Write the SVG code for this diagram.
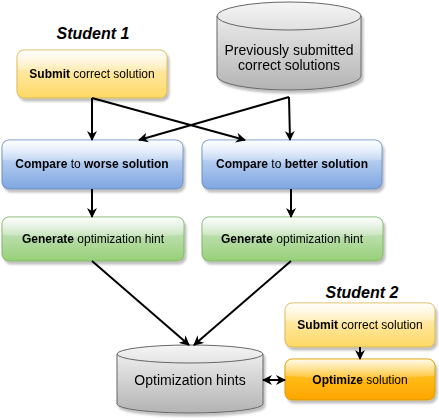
<svg xmlns="http://www.w3.org/2000/svg" width="439" height="420" viewBox="0 0 439 420">
<defs>
<linearGradient id="gY" x1="0" y1="0" x2="0" y2="1"><stop offset="0" stop-color="#fff2cc"/><stop offset="1" stop-color="#ffd966"/></linearGradient>
<linearGradient id="gB" x1="0" y1="0" x2="0" y2="1"><stop offset="0" stop-color="#dae8fc"/><stop offset="1" stop-color="#7ea6e0"/></linearGradient>
<linearGradient id="gG" x1="0" y1="0" x2="0" y2="1"><stop offset="0" stop-color="#d5e8d4"/><stop offset="1" stop-color="#97d077"/></linearGradient>
<linearGradient id="gO" x1="0" y1="0" x2="0" y2="1"><stop offset="0" stop-color="#ffcd28"/><stop offset="1" stop-color="#ffa500"/></linearGradient>
<linearGradient id="gC" x1="0" y1="0" x2="0" y2="1"><stop offset="0" stop-color="#f5f5f5"/><stop offset="1" stop-color="#b3b3b3"/></linearGradient>
<linearGradient id="glass" x1="0" y1="0" x2="0" y2="1"><stop offset="0" stop-color="#fff" stop-opacity="0.9"/><stop offset="1" stop-color="#fff" stop-opacity="0.1"/></linearGradient>
<filter id="sh" x="-10%" y="-10%" width="130%" height="140%"><feDropShadow dx="2" dy="3" stdDeviation="1.2" flood-color="#000" flood-opacity="0.25"/></filter>
<marker id="ah" viewBox="0 0 10 10" refX="9" refY="5" markerWidth="10" markerHeight="10" orient="auto-start-reverse" markerUnits="userSpaceOnUse"><path d="M0,0 L10,5 L0,10 L3,5 z" fill="#000"/></marker>
<style>
text{font-family:"Liberation Sans",Arial,sans-serif;font-size:12px;fill:#000;text-anchor:middle}
.b{font-weight:bold}
.title{font-size:16px;font-weight:bold;font-style:italic}
.big{font-size:14px}
.box{stroke-width:1}
.y{fill:url(#gY);stroke:#d6b656}
.bl{fill:url(#gB);stroke:#6c8ebf}
.g{fill:url(#gG);stroke:#82b366}
.o{fill:url(#gO);stroke:#d79b00}
.c{fill:url(#gC);stroke:#666666}
.gl{fill:url(#glass);stroke:none}
.e{fill:none;stroke:#000;stroke-width:2;marker-end:url(#ah)}
</style>
</defs>
<rect width="439" height="420" fill="#fff"/>
<text class="title" x="93" y="39">Student 1</text>
<text class="title" x="362" y="298">Student 2</text>

<g id="submit1" filter="url(#sh)">
<rect class="box y" x="17" y="50" width="150" height="48" rx="7"/>
<path class="gl" d="M24,50.5 H160 A6.5,6.5 0 0 1 166.5,57 V70 Q92,76 17.5,70 V57 A6.5,6.5 0 0 1 24,50.5 z"/>
<text x="92" y="78"><tspan class="b">Submit</tspan> correct solution</text>
</g>

<g id="previous" filter="url(#sh)">
<path class="c" d="M217,16 A72,14 0 0 1 361,16 V76 A72,14 0 0 1 217,76 z"/>
<path d="M217,16 A72,14 0 0 0 361,16" fill="none" stroke="#666666"/>
<text class="big" x="289" y="55">Previously submitted</text>
<text class="big" x="289" y="70">correct solutions</text>
</g>

<g id="compare1" filter="url(#sh)">
<rect class="box bl" x="2" y="140" width="181" height="49" rx="7"/>
<path class="gl" d="M9,140.5 H176 A6.5,6.5 0 0 1 182.5,147 V160 Q92,166 2.5,160 V147 A6.5,6.5 0 0 1 9,140.5 z"/>
<text x="92" y="168"><tspan class="b">Compare</tspan> to <tspan class="b">worse solution</tspan></text>
</g>

<g id="compare2" filter="url(#sh)">
<rect class="box bl" x="202" y="140" width="180" height="49" rx="7"/>
<path class="gl" d="M209,140.5 H375 A6.5,6.5 0 0 1 381.5,147 V160 Q292,166 202.5,160 V147 A6.5,6.5 0 0 1 209,140.5 z"/>
<text x="292" y="168"><tspan class="b">Compare</tspan> to <tspan class="b">better solution</tspan></text>
</g>

<g id="generate1" filter="url(#sh)">
<rect class="box g" x="2" y="217" width="182" height="44" rx="7"/>
<path class="gl" d="M9,217.5 H177 A6.5,6.5 0 0 1 183.5,224 V235 Q92,241 2.5,235 V224 A6.5,6.5 0 0 1 9,217.5 z"/>
<text x="93" y="243"><tspan class="b">Generate</tspan> optimization hint</text>
</g>

<g id="generate2" filter="url(#sh)">
<rect class="box g" x="202" y="217" width="181" height="44" rx="7"/>
<path class="gl" d="M209,217.5 H376 A6.5,6.5 0 0 1 382.5,224 V235 Q292,241 202.5,235 V224 A6.5,6.5 0 0 1 209,217.5 z"/>
<text x="292" y="243"><tspan class="b">Generate</tspan> optimization hint</text>
</g>

<g id="hints" filter="url(#sh)">
<path class="c" d="M117,354 A73,9 0 0 1 263,354 V404 A73,9 0 0 1 117,404 z"/>
<path d="M117,354 A73,9 0 0 0 263,354" fill="none" stroke="#666666"/>
<text class="big" x="190" y="385">Optimization hints</text>
</g>

<g id="submit2" filter="url(#sh)">
<rect class="box y" x="285" y="303" width="150" height="44" rx="7"/>
<path class="gl" d="M292,303.5 H428 A6.5,6.5 0 0 1 434.5,310 V321 Q360,327 285.5,321 V310 A6.5,6.5 0 0 1 292,303.5 z"/>
<text x="360" y="329"><tspan class="b">Submit</tspan> correct solution</text>
</g>

<g id="optimize" filter="url(#sh)">
<rect class="box o" x="285" y="359" width="150" height="41" rx="7"/>
<path class="gl" d="M292,359.5 H428 A6.5,6.5 0 0 1 434.5,366 V376 Q360,382 285.5,376 V366 A6.5,6.5 0 0 1 292,359.5 z"/>
<text x="360" y="384"><tspan class="b">Optimize</tspan> solution</text>
</g>

<g id="connectors">
<path class="e" d="M92,98 V140"/>
<path class="e" d="M92,98 L245,140"/>
<path class="e" d="M289,97 L290,140"/>
<path class="e" d="M289,97 L139,140"/>
<path class="e" d="M92,189 V217"/>
<path class="e" d="M291,189 V217"/>
<path class="e" d="M92,261 L189,345"/>
<path class="e" d="M291,261 L194,345"/>
<path class="e" d="M360,347 V359"/>
<path class="e" d="M263,380 H285" style="marker-start:url(#ah)"/>
</g>
</svg>
